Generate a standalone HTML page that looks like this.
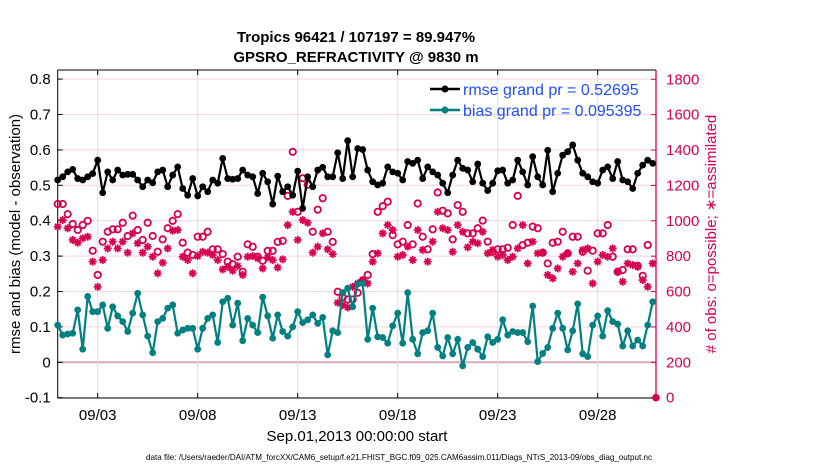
<!DOCTYPE html>
<html><head><meta charset="utf-8"><style>
html,body{margin:0;padding:0;background:#fff;}
svg{display:block;font-family:"Liberation Sans",sans-serif;}
</style></head><body>
<svg id="chart" width="830" height="470" viewBox="0 0 830 470" xmlns="http://www.w3.org/2000/svg">
<g id="grid"></g>
<g id="axes"></g>
<g id="series"></g>
<text x="356" y="42" text-anchor="middle" font-size="15" font-weight="bold">Tropics 96421 / 107197 = 89.947%</text>
<text x="356" y="62" text-anchor="middle" font-size="15" font-weight="bold">GPSRO_REFRACTIVITY @ 9830 m</text>
<text x="357" y="441" text-anchor="middle" font-size="15">Sep.01,2013 00:00:00 start</text>
<text transform="translate(20,234) rotate(-90)" text-anchor="middle" font-size="15">rmse and bias (model - observation)</text>
<text transform="translate(716,234) rotate(-90)" text-anchor="middle" font-size="15" fill="#d6004f"># of obs: o=possible; ∗=assimilated</text>
<text x="399" y="460" text-anchor="middle" font-size="8.2" textLength="506" lengthAdjust="spacingAndGlyphs">data file: /Users/raeder/DAI/ATM_forcXX/CAM6_setup/f.e21.FHIST_BGC.f09_025.CAM6assim.011/Diags_NTrS_2013-09/obs_diag_output.nc</text>
<g>
<line x1="430" y1="89" x2="460" y2="89" stroke="#000" stroke-width="2.5"/>
<circle cx="445" cy="89" r="3.5" fill="#000"/>
<text x="463" y="95" font-size="16" fill="#1f4fff">rmse grand pr = 0.52695</text>
<line x1="430" y1="110" x2="460" y2="110" stroke="#008080" stroke-width="2.5"/>
<circle cx="445" cy="110" r="3.5" fill="#008080"/>
<text x="463" y="116" font-size="16" fill="#1f4fff">bias grand pr = 0.095395</text>
</g>
</svg>
<script>
const rmse=[0.515,0.524,0.538,0.545,0.519,0.515,0.524,0.533,0.571,0.479,0.538,0.515,0.543,0.529,0.531,0.531,0.515,0.496,0.515,0.507,0.538,0.543,0.496,0.529,0.552,0.491,0.472,0.519,0.470,
0.496,0.482,0.515,0.506,0.576,0.519,0.517,0.519,0.543,0.529,0.524,0.477,0.534,0.510,0.447,0.526,0.482,0.496,0.472,0.540,0.435,0.524,0.496,0.543,0.551,0.524,0.524,0.592,0.519,0.626,
0.524,0.604,0.601,0.543,0.510,0.501,0.506,0.552,0.538,0.534,0.515,0.567,0.562,0.571,0.519,0.552,0.538,0.529,0.506,0.479,0.529,0.571,0.548,0.543,0.510,0.560,0.506,0.485,0.506,0.541,
0.543,0.506,0.515,0.571,0.538,0.501,0.581,0.524,0.501,0.599,0.482,0.534,0.585,0.595,0.614,0.571,0.534,0.524,0.510,0.506,0.543,0.552,0.519,0.567,0.515,0.510,0.491,0.534,0.557,0.571,0.562];
const bias=[0.105,0.077,0.080,0.082,0.148,0.037,0.186,0.143,0.143,0.162,0.096,0.157,0.131,0.115,0.087,0.139,0.195,0.134,0.074,0.027,0.115,0.124,0.153,0.162,0.082,0.091,0.096,0.096,0.037,
0.096,0.124,0.134,0.056,0.171,0.181,0.105,0.167,0.061,0.124,0.105,0.084,0.184,0.131,0.068,0.134,0.087,0.074,0.100,0.143,0.112,0.120,0.134,0.110,0.127,0.021,0.089,0.084,0.197,0.209,
0.157,0.221,0.223,0.065,0.153,0.072,0.070,0.054,0.103,0.139,0.054,0.197,0.065,0.024,0.084,0.089,0.139,0.042,0.018,0.070,0.024,0.065,-0.010,0.042,0.056,0.037,0.016,0.072,0.056,0.065,
0.120,0.077,0.087,0.084,0.084,0.058,0.159,0.002,0.025,0.042,0.096,0.139,0.096,0.035,0.089,0.165,0.024,0.016,0.105,0.131,0.074,0.146,0.115,0.108,0.046,0.089,0.046,0.063,0.046,0.105,0.171];
const possible=[1095,1095,1038,982,948,976,1000,831,694,882,938,952,952,989,914,1029,948,892,989,914,825,895,958,1000,1038,876,820,807,910,
910,938,839,839,812,769,755,797,712,867,853,797,774,830,830,881,887,1141,1390,1051,1241,1204,938,1063,1128,938,881,599,567,555,
555,593,661,694,812,1051,1083,1108,919,867,882,976,867,1098,910,839,952,1160,1057,1042,895,1089,1051,929,929,958,1001,882,825,839,
839,848,976,1141,863,876,967,958,820,759,876,882,938,816,910,910,825,718,831,929,929,976,797,712,722,839,839,746,689,863];
const assimilated=[967,1004,958,892,876,901,910,769,627,778,844,882,844,882,820,929,873,820,854,797,703,763,844,944,948,797,778,703,801,
825,820,807,778,725,740,718,744,694,797,801,788,731,793,778,736,782,976,1051,892,1004,989,820,854,929,839,812,537,524,510,
627,646,665,646,769,816,929,976,948,797,807,854,778,948,835,769,882,1051,958,948,825,976,938,850,882,873,938,816,835,797,
807,778,797,844,976,759,882,816,820,694,675,731,797,816,712,759,835,844,646,769,807,797,844,712,656,759,750,740,665,627,759];
const leftTicks=["-0.1","0","0.1","0.2","0.3","0.4","0.5","0.6","0.7","0.8"];
const leftTickValues=[-0.1,0,0.1,0.2,0.3,0.4,0.5,0.6,0.7,0.8];
const rightTicks=[0,200,400,600,800,1000,1200,1400,1600,1800];
const xTickLabels=["09/03","09/08","09/13","09/18","09/23","09/28"];
const xTickDays=[2,7,12,17,22,27];
const stepDays=0.25;

const NS="http://www.w3.org/2000/svg";
const L=57.7,R=656,T=70,B=398;
function xs(d){return L+d*20;}
function yl(v){return 362.3-v*354;}
function yr(c){return 397.7-c*318.4/1800;}
function mk(tag,attrs,parent){const e=document.createElementNS(NS,tag);for(const k in attrs)e.setAttribute(k,attrs[k]);parent.appendChild(e);return e;}
const grid=document.getElementById('grid'),axes=document.getElementById('axes'),ser=document.getElementById('series');

leftTickValues.forEach((v,i)=>{
  const y=yl(v);
  const g=mk('line',{x1:L,x2:R,y1:y,y2:y,stroke:v===0?'#d9a8b8':'#f5d3df','stroke-width':v===0?2:1},grid);
  
  
  const t=mk('text',{x:L-7,y:y+5,'text-anchor':'end','font-size':15},axes);
  t.textContent=leftTicks[i];
  
  
  mk('line',{x1:L,x2:L+5,y1:y,y2:y,stroke:'#000'},axes);
});
xTickDays.forEach((d,i)=>{
  const x=xs(d);
  const g=mk('line',{x1:x,x2:x,y1:T,y2:B,stroke:'#ddd','stroke-width':1},grid);
  
  
  mk('line',{x1:x,x2:x,y1:B,y2:B-5,stroke:'#000'},axes);
  mk('line',{x1:x,x2:x,y1:T,y2:T+5,stroke:'#000'},axes);
  const t=mk('text',{x:x,y:420,'text-anchor':'middle','font-size':15},axes);
  t.textContent=xTickLabels[i];
  
  
});
rightTicks.forEach(c=>{
  const y=yr(c);
  mk('line',{x1:R,x2:R-5,y1:y,y2:y,stroke:'#d6004f'},axes);
  const t=mk('text',{x:R+10,y:y+5,'font-size':15,fill:'#d6004f'},axes);
  t.textContent=String(c);
  
  
});
mk('line',{x1:L,x2:R,y1:T,y2:T,stroke:'#000'},axes);
mk('line',{x1:L,x2:R,y1:B,y2:B,stroke:'#000'},axes);
mk('line',{x1:L,x2:L,y1:T,y2:B,stroke:'#000'},axes);
const ra=mk('line',{x1:R,x2:R,y1:T,y2:B,stroke:'#d6004f','stroke-width':1.3},axes);



possible.forEach((c,i)=>{
  const e=mk('circle',{cx:xs(i*stepDays),cy:yr(c),r:3.2,fill:'none',stroke:'#d6004f','stroke-width':1.8},ser);
  
  
});
assimilated.forEach((c,i)=>{
  const x=xs(i*stepDays),y=yr(c),s=4;
  const g=mk('g',{stroke:'#d6004f','stroke-width':1.8},ser);
  
  
  mk('line',{x1:x-s,x2:x+s,y1:y,y2:y},g);
  mk('line',{x1:x,x2:x,y1:y-s,y2:y+s},g);
  mk('line',{x1:x-s*0.7,x2:x+s*0.7,y1:y-s*0.7,y2:y+s*0.7},g);
  mk('line',{x1:x-s*0.7,x2:x+s*0.7,y1:y+s*0.7,y2:y-s*0.7},g);
});
const endPt=mk('circle',{cx:R,cy:yr(0),r:3.8,fill:'#d6004f'},ser);



function drawLine(vals,color,name){
  const pts=vals.map((v,i)=>xs(i*stepDays).toFixed(1)+','+yl(v).toFixed(1)).join(' ');
  const p=mk('polyline',{points:pts,fill:'none',stroke:color,'stroke-width':2.2},ser);
  
  
  vals.forEach((v,i)=>{
    const c=mk('circle',{cx:xs(i*stepDays),cy:yl(v),r:3.4,fill:color},ser);
    
    
  });
}
drawLine(bias,'#008080','bias');
drawLine(rmse,'#000000','rmse');
</script>
</body></html>
